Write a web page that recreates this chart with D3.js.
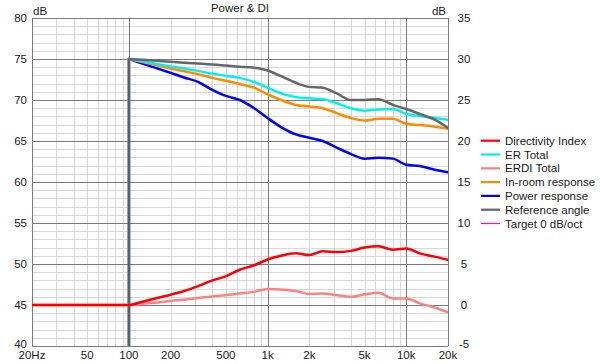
<!DOCTYPE html>
<html><head><meta charset="utf-8">
<script src="https://cdn.jsdelivr.net/npm/d3@7"></script>
<style>
html,body{margin:0;padding:0;background:#fff;}
svg{display:block;font-family:"Liberation Sans",Arial,sans-serif;}
</style></head>
<body><svg id="c" width="600" height="364"></svg>
<script>
// ---- data ----
const freqs = [20,100,125,160,200,250,315,400,500,630,800,1000,1250,1600,2000,2500,3150,4000,5000,6300,8000,10000,12500,16000,20000];
// SPL curves, left axis (dB)
const referenceAngle = [null,75,74.9,74.78,74.67,74.55,74.45,74.34,74.2,74.05,73.93,73.6,72.9,72.1,71.6,71.5,70.8,70.0,70.0,70.1,69.4,68.9,68.3,67.6,66.6];
const erTotal        = [null,75,74.72,74.4,74.1,73.85,73.55,73.2,72.97,72.7,72.2,71.5,70.8,70.35,70.2,70.1,69.6,69.0,68.7,68.85,68.9,68.3,68.05,67.8,67.6];
const inRoom         = [null,75,74.64,74.22,73.85,73.5,73.15,72.7,72.35,71.95,71.5,70.7,70.0,69.4,69.2,69.0,68.4,67.8,67.5,67.7,67.7,67.1,66.95,66.75,66.5];
const powerResp      = [null,75,74.45,73.85,73.3,72.75,72.2,71.24,70.5,70.0,69.0,67.8,66.7,65.8,65.4,65.0,64.2,63.4,62.85,62.95,62.85,62.1,61.95,61.5,61.2];
// DI curves, right axis (dB)
const directivityIndex = [0,0,0.4,0.85,1.25,1.7,2.3,3.0,3.5,4.3,4.85,5.55,6.0,6.3,6.1,6.55,6.45,6.6,7.0,7.15,6.75,6.9,6.3,5.9,5.5];
const erdiTotal        = [0,0,0.15,0.3,0.5,0.65,0.85,1.05,1.2,1.4,1.6,1.95,1.9,1.7,1.35,1.4,1.2,1.0,1.3,1.5,0.8,0.8,0.2,-0.3,-0.9];

const legendNames = ["Directivity Index","ER Total","ERDI Total","In-room response","Power response","Reference angle","Target 0 dB/oct"];
const legendColors = ["#ff0000","#00f0f0","#ff8080","#ff8c00","#0000ff","#666666","#ff00ff"];
const xTickValues = [20,50,100,200,500,1000,2000,5000,10000,20000];
const xTickLabels = ["20Hz","50","100","200","500","1k","2k","5k","10k","20k"];
const leftTicks = [40,45,50,55,60,65,70,75,80];
const rightTicks = [-5,0,5,10,15,20,25,30,35];

// ---- layout ----
const L=32, R=448, T=18, B=346;
const svg = d3.select("#c");
const x = d3.scaleLog().domain([20,20000]).range([L,R]);
const yL = d3.scaleLinear().domain([40,80]).range([B,T]);
const yR = d3.scaleLinear().domain([-5,35]).range([B,T]);
const px = v => Math.round(v)+0.5;

// grid minor verticals
const minorF = [];
[10,100,1000,10000].forEach(d=>{for(let k=1;k<10;k++){const f=d*k; if(f>20&&f<20000&&![100,1000,10000].includes(f)) minorF.push(f);}});
const g = svg.append("g");
g.selectAll(".vm").data(minorF).join("line")
 .attr("x1",d=>px(x(d))).attr("x2",d=>px(x(d))).attr("y1",T).attr("y2",B)
 .attr("stroke","#d9d9d9").attr("stroke-width",1);
const minorY = d3.range(41,80).filter(v=>v%5!==0);
g.selectAll(".hm").data(minorY).join("line")
 .attr("y1",d=>px(yL(d))).attr("y2",d=>px(yL(d))).attr("x1",L).attr("x2",R)
 .attr("stroke","#d9d9d9").attr("stroke-width",1);
// major
g.selectAll(".hM").data(leftTicks).join("line")
 .attr("y1",d=>px(yL(d))).attr("y2",d=>px(yL(d))).attr("x1",L).attr("x2",R)
 .attr("stroke","#7a7a7a").attr("stroke-width",1);
g.selectAll(".vM").data([20,100,1000,10000,20000]).join("line")
 .attr("x1",d=>px(x(d))).attr("x2",d=>px(x(d))).attr("y1",T).attr("y2",B)
 .attr("stroke","#7a7a7a").attr("stroke-width",1);

// curves
svg.append("clipPath").attr("id","clip").append("rect").attr("x",L).attr("y",T).attr("width",R-L).attr("height",B-T);
const cg = svg.append("g").attr("clip-path","url(#clip)");
// vertical drop at 100 Hz
cg.append("line").attr("x1",x(100)).attr("x2",x(100)).attr("y1",yL(75)).attr("y2",yL(40))
 .attr("stroke","#5b5e6b").attr("stroke-width",3);

function curve(vals, scale, color, w){
  const pts = freqs.map((f,i)=>[f,vals[i]]).filter(d=>d[1]!==null);
  const line = d3.line().x(d=>x(d[0])).y(d=>scale(d[1])).curve(d3.curveMonotoneX);
  cg.append("path").attr("d",line(pts)).attr("fill","none").attr("stroke",color)
    .attr("stroke-width",w).attr("stroke-linejoin","round").attr("stroke-linecap","round");
}
curve(erdiTotal, yR, legendColors[2], 2.5);
curve(directivityIndex, yR, legendColors[0], 2.5);
curve(powerResp, yL, legendColors[4], 2.5);
curve(inRoom, yL, legendColors[3], 2.5);
curve(erTotal, yL, legendColors[1], 2.5);
curve(referenceAngle, yL, legendColors[5], 2.5);

// text
const fs = 11.5, tc = "#1a1a1a";
svg.selectAll(".xt").data(xTickValues).join("text")
 .attr("x",d=>x(d)).attr("y",359).attr("text-anchor","middle")
 .attr("font-size",fs).attr("fill",tc).text((d,i)=>xTickLabels[i]);
svg.selectAll(".yl").data(leftTicks).join("text")
 .attr("x",27).attr("y",d=>Math.min(yL(d)+4,348)).attr("text-anchor","end")
 .attr("font-size",fs).attr("fill",tc).text(d=>d);
svg.selectAll(".yr").data(rightTicks).join("text")
 .attr("x",464).attr("y",d=>Math.min(yR(d)+4,348)).attr("text-anchor","middle")
 .attr("font-size",fs).attr("fill",tc).text(d=>d);
svg.append("text").attr("x",33).attr("y",15).attr("font-size",fs).attr("fill",tc).text("dB");
svg.append("text").attr("x",446).attr("y",15).attr("text-anchor","end").attr("font-size",fs).attr("fill",tc).text("dB");
svg.append("text").attr("x",(L+R)/2).attr("y",12).attr("text-anchor","middle").attr("font-size",fs).attr("fill",tc).text("Power & DI");

// legend
const lg = svg.append("g");
legendNames.forEach((n,i)=>{
  const yy = 140.7 + i*13.8;
  lg.append("line").attr("x1",481).attr("x2",500).attr("y1",yy).attr("y2",yy)
    .attr("stroke",legendColors[i]).attr("stroke-width",i===6?1.2:2.2);
  lg.append("text").attr("x",505).attr("y",yy+4).attr("font-size",fs).attr("fill",tc).text(n);
});
</script></body></html>
